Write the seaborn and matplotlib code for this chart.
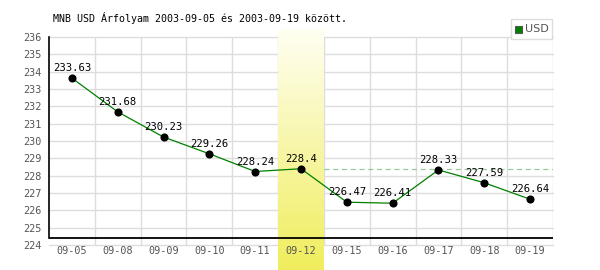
import numpy as np
import pandas as pd
import matplotlib
matplotlib.use("Agg")
import matplotlib.pyplot as plt
import seaborn as sns
from matplotlib.patches import Rectangle

categories = ["09-05", "09-08", "09-09", "09-10", "09-11", "09-12",
              "09-15", "09-16", "09-17", "09-18", "09-19"]
usd = [233.63, 231.68, 230.23, 229.26, 228.24, 228.4,
       226.47, 226.41, 228.33, 227.59, 226.64]
value_labels = ["233.63", "231.68", "230.23", "229.26", "228.24", "228.4",
                "226.47", "226.41", "228.33", "227.59", "226.64"]
highlight_idx = 5
y_ticks = list(range(224, 237))
title = "MNB USD Árfolyam 2003-09-05 és 2003-09-19 között."

sns.set_theme(style="white")
plt.rcParams['font.family'] = ['DejaVu Sans Mono', 'DejaVu Sans']

df = pd.DataFrame({"pos": np.arange(len(categories)), "usd": usd})

W, H = 600, 270
fig = plt.figure(figsize=(W / 100, H / 100), dpi=100)
L, R, T, B = 49, 553, 37, 245
ax = fig.add_axes([L / W, (H - B) / H, (R - L) / W, (B - T) / H])
ymin, ymax = 224, 236
ppu = (B - T) / (ymax - ymin)

# highlight band with vertical gradient
grad = np.linspace(0, 1, 256).reshape(-1, 1)
top_c = np.array([1.0, 1.0, 0.95])
bot_c = np.array([0.94, 0.93, 0.36])
img = top_c[None, None, :] * (1 - grad[:, :, None]) + bot_c[None, None, :] * grad[:, :, None]
band_top = ymax + (T - 29) / ppu
band_bot = ymin - (H - B) / ppu
ax.imshow(img, extent=[highlight_idx - 0.5, highlight_idx + 0.5, band_bot, band_top],
          aspect='auto', origin='upper', clip_on=False, zorder=1.3)

# grid
for yv in y_ticks:
    ax.axhline(yv, color="#dddddd", lw=1, zorder=1, clip_on=False)
for k in range(1, len(categories) + 1):
    ax.axvline(k - 0.5, color="#dddddd", lw=1, zorder=1)

# reference dashed line
ax.plot([highlight_idx + 0.5, len(categories) - 0.5], [usd[highlight_idx]] * 2,
        color="#99c899", lw=0.9, ls=(0, (4, 3)), zorder=1.5)

sns.lineplot(data=df, x="pos", y="usd", color="#008000", lw=0.9, ax=ax, zorder=3)
sns.scatterplot(data=df, x="pos", y="usd", color="black", s=34, edgecolor="black",
                linewidth=0, ax=ax, zorder=4)

for i, (v, lab) in enumerate(zip(usd, value_labels)):
    ax.annotate(lab, (i, v), xytext=(0, 3.5), textcoords="offset points",
                ha="center", va="bottom", fontsize=7.6, color="black", zorder=5)

ax.set_xlim(-0.5, len(categories) - 0.5)
ax.set_ylim(ymin, ymax)
ax.set_xticks(range(len(categories)))
ax.set_xticklabels(categories)
ax.set_yticks(y_ticks)
ax.set_yticklabels([str(t) for t in y_ticks])
ax.tick_params(axis='x', length=0, pad=1, labelsize=7.3, labelcolor="#555555")
ax.tick_params(axis='y', length=0, pad=5, labelsize=7.3, labelcolor="#555555")
ax.xaxis.set_zorder(5)
ax.yaxis.set_zorder(5)
ax.set_xlabel("")
ax.set_ylabel("")
for s in ["top", "right", "bottom"]:
    ax.spines[s].set_visible(False)
axis_y = ymin + (B - 238) / ppu
ax.spines["left"].set_bounds(axis_y, ymax)
ax.spines["left"].set_color("black")
ax.spines["left"].set_linewidth(1.2)
ax.axhline(axis_y, color="black", lw=1.3, zorder=6)
ax.patch.set_alpha(0)

fig.text(53 / W, 1 - 18 / H, title, ha="left", va="center", fontsize=7.2, color="black")

# legend
fig.patches.append(Rectangle((511 / W, 1 - 39 / H), 41 / W, 20 / H, transform=fig.transFigure,
                             facecolor="white", edgecolor="#dddddd", lw=1, zorder=10))
fig.patches.append(Rectangle((515 / W, 1 - 33 / H), 7 / W, 7 / H, transform=fig.transFigure,
                             facecolor="#008000", edgecolor="#555555", lw=0.8, zorder=11))
fig.text(525 / W, 1 - 29.5 / H, "USD", ha="left", va="center", fontsize=8,
         color="#555555", family="DejaVu Sans", zorder=12)

fig.savefig("out.png", dpi=100, facecolor="white")
